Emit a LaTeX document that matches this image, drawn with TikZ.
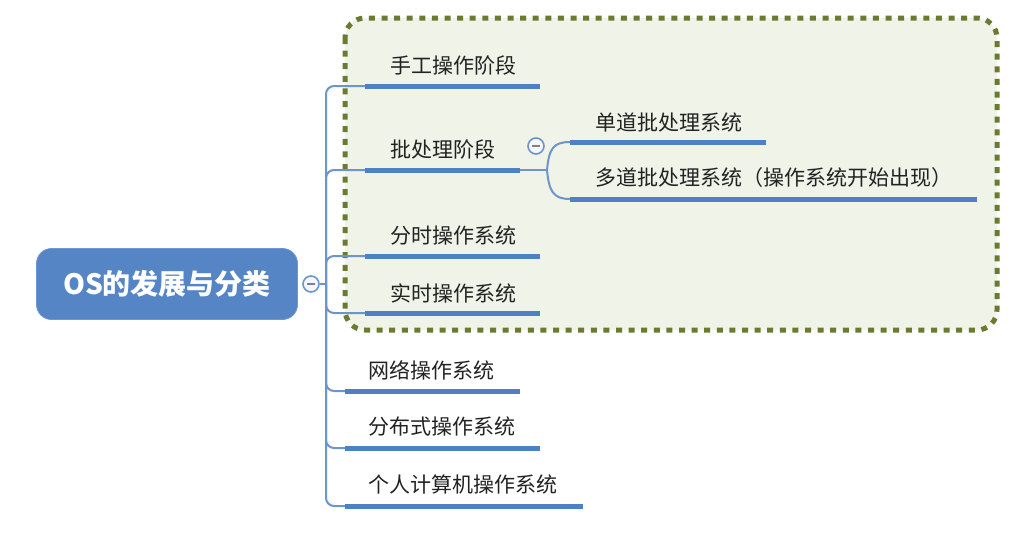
\documentclass[tikz,border=0pt]{standalone}
\usepackage{fontspec}
\newfontfamily\cjk{Noto Sans CJK SC}
\definecolor{rootblue}{HTML}{5585C5}
\definecolor{barblue}{HTML}{4F80C4}
\definecolor{lineblue}{HTML}{6E95CB}
\definecolor{olive}{HTML}{6B7A30}
\definecolor{boxfill}{HTML}{EFF3E8}
\definecolor{ink}{HTML}{222222}
\begin{document}
\begin{tikzpicture}[x=0.5pt, y=-0.5pt,
  root/.style={shape=rectangle, rounded corners=7.5pt, fill=rootblue, draw=rootblue!85!white, minimum width=130.5pt, minimum height=35.5pt, text=white, font=\cjk\bfseries\fontsize{14}{17}\selectfont},
  topic/.style={anchor=west, inner sep=0pt, text=ink, font=\cjk\fontsize{10.5}{12}\selectfont},
  bar/.style={draw=barblue, line width=2.5pt},
  link/.style={draw=lineblue, line width=1pt, rounded corners=4pt},
  fold/.style={shape=circle, draw=lineblue, fill=blue!4, line width=0.8pt, minimum size=8pt, inner sep=0pt}]
\useasboundingbox (0,0) rectangle (1024,536);

\draw[draw=olive, fill=boxfill, line width=2.5pt, dash pattern=on 3pt off 3.3pt, rounded corners=10pt] (345,18) rectangle (997,330);

\node[root] (os) at (167,284) {OS的发展与分类};
\node[fold] (f0) at (311,284) {\color{gray}\rule{4pt}{0.6pt}};

\coordinate (tr) at (326,284);
\coordinate (a1) at (365,86);  \coordinate (a1e) at (540,86);
\coordinate (a2) at (365,170); \coordinate (a2e) at (520,170);
\coordinate (a3) at (365,256); \coordinate (a3e) at (540,256);
\coordinate (a4) at (365,313); \coordinate (a4e) at (540,313);
\coordinate (a5) at (345,391); \coordinate (a5e) at (520,391);
\coordinate (a6) at (345,448); \coordinate (a6e) at (540,448);
\coordinate (a7) at (345,506); \coordinate (a7e) at (583,506);
\coordinate (fk) at (547,170);
\coordinate (s1) at (570,142); \coordinate (s1e) at (766,142);
\coordinate (s2) at (570,199); \coordinate (s2e) at (977,199);

% trunk
\draw[link] (f0) -- (tr);
\draw[link] (tr) |- (a1);
\draw[link] (tr) |- (a2);
\draw[link] (tr) |- (a3);
\draw[link] (tr) |- (a4);
\draw[link] (tr) |- (a5);
\draw[link] (tr) |- (a6);
\draw[link] (tr) |- (a7);

% batch fork
\draw[link] (a2e) -- (fk);
\draw[link] (fk) .. controls (549,149) and (553,142) .. (s1);
\draw[link] (fk) .. controls (549,191) and (553,199) .. (s2);
\node[fold] (f1) at (536,146) {\color{gray}\rule{4pt}{0.6pt}};

\draw[bar] (a1) -- (a1e);
\draw[bar] (a2) -- (a2e);
\draw[bar] (a3) -- (a3e);
\draw[bar] (a4) -- (a4e);
\draw[bar] (a5) -- (a5e);
\draw[bar] (a6) -- (a6e);
\draw[bar] (a7) -- (a7e);
\draw[bar] (s1) -- (s1e);
\draw[bar] (s2) -- (s2e);

\node[topic] (t1) at (390,65) {手工操作阶段};
\node[topic] (t2) at (390,149) {批处理阶段};
\node[topic] (t3) at (390,236) {分时操作系统};
\node[topic] (t4) at (390,293) {实时操作系统};
\node[topic] (t5) at (368,370) {网络操作系统};
\node[topic] (t6) at (368,427) {分布式操作系统};
\node[topic] (t7) at (368,484) {个人计算机操作系统};
\node[topic] (u1) at (595,122) {单道批处理系统};
\node[topic] (u2) at (595,178) {多道批处理系统（操作系统开始出现）};

\end{tikzpicture}
\end{document}
